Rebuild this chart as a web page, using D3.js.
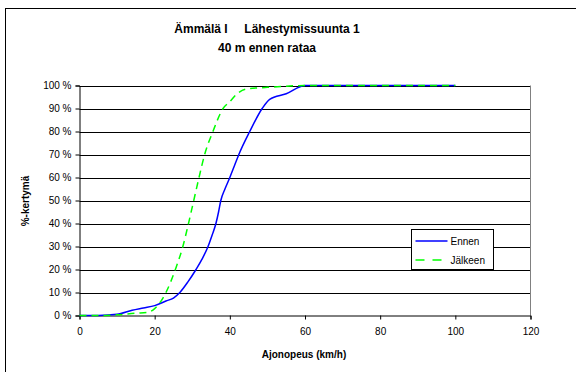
<!DOCTYPE html>
<html>
<head>
<meta charset="utf-8">
<script src="https://cdn.jsdelivr.net/npm/d3@7"></script>
<style>
  body { margin: 0; background: #fff; }
  text { font-family: Arial, "Liberation Sans", sans-serif; }
</style>
</head>
<body>
<div id="outer"></div>
<script>
////////// DATA //////////
const titleLines = ['Ämmälä I     Lähestymissuunta 1', '40 m ennen rataa'];
const seriesNames = ['Ennen', 'Jälkeen'];
const xTicks = [0, 20, 40, 60, 80, 100, 120];
const yTicks = [0, 10, 20, 30, 40, 50, 60, 70, 80, 90, 100];

// [speed km/h, cumulative %]
const ennen = [[0,0],[5,0],[10,0.5],[14,2.3],[17,3.3],[20,4.3],[23,6.3],[25,7.6],[26.7,10],[28.8,14.5],[31,20],[32.6,24.5],[34.2,30],[35.3,35],[36.3,40],[37,45],[37.6,50],[38.7,55],[40,60],[41.2,65],[42.4,70],[45.3,80],[48.6,90],[50.6,94],[55,96.4],[60,100],[100,100]];
const jalkeen = [[0,0],[5,0],[10,0.3],[15,1],[18,1.3],[20,3],[23,10],[25.5,20],[27.5,30],[29,40],[30.4,50],[31.8,60],[33.3,70],[35.5,80],[38.2,90],[40,93],[42,96.5],[44.4,98.5],[50,99.2],[55,99.7],[60,100],[100,100]];

////////// SIZING //////////
const width = 576, height = 372;
const plot = { left: 79.5, right: 530.5, top: 85.5, bottom: 315.5 };

const svg = d3.select('#outer').append('svg')
  .attr('width', width)
  .attr('height', height);

// outer chart border (runs off the right / bottom edge)
svg.append('rect')
  .attr('x', 5.5).attr('y', 8.5)
  .attr('width', 600).attr('height', 400)
  .attr('fill', 'white').attr('stroke', '#000').attr('stroke-width', 1);

const x = d3.scaleLinear().domain([0, 120]).range([plot.left, plot.right]);
const y = d3.scaleLinear().domain([0, 100]).range([plot.bottom, plot.top]);

// gridlines
svg.append('g').selectAll('line')
  .data(yTicks.filter(d => d > 0))
  .join('line')
  .attr('x1', plot.left).attr('x2', plot.right)
  .attr('y1', d => Math.round(y(d)) + 0.5).attr('y2', d => Math.round(y(d)) + 0.5)
  .attr('stroke', '#000').attr('stroke-width', 1);

// plot area border (right side grey)
svg.append('line')
  .attr('x1', plot.right).attr('x2', plot.right)
  .attr('y1', plot.top).attr('y2', plot.bottom)
  .attr('stroke', '#808080');

// axes
const yAxis = svg.append('g')
  .attr('transform', `translate(${plot.left},0)`)
  .call(d3.axisLeft(y).tickValues(yTicks).tickSize(4).tickPadding(3).tickFormat(d => d + ' %'));
const xAxis = svg.append('g')
  .attr('transform', `translate(0,${plot.bottom})`)
  .call(d3.axisBottom(x).tickValues(xTicks).tickSize(4).tickPadding(8).tickFormat(d3.format('d')));
[xAxis, yAxis].forEach(a => {
  a.select('.domain').attr('stroke', '#000');
  a.selectAll('line').attr('stroke', '#000');
  a.selectAll('text').attr('font-size', 10).attr('fill', '#000')
    .attr('font-family', 'Arial, "Liberation Sans", sans-serif');
});
yAxis.selectAll('text').attr('x', -8);

// lines
const line = d3.line().curve(d3.curveMonotoneX).x(d => x(d[0])).y(d => y(d[1]));
svg.append('path').datum(ennen)
  .attr('d', line).attr('fill', 'none')
  .attr('stroke', '#0000ff').attr('stroke-width', 1.5);
svg.append('path').datum(jalkeen)
  .attr('d', line).attr('fill', 'none')
  .attr('stroke', '#00ff00').attr('stroke-width', 1.5)
  .attr('stroke-dasharray', '7,5');

// title
svg.append('g').selectAll('text')
  .data(titleLines)
  .join('text')
  .attr('x', 267).attr('y', (d, i) => 33 + i * 18.5)
  .attr('text-anchor', 'middle')
  .attr('font-size', 12).attr('font-weight', 'bold')
  .attr('xml:space', 'preserve')
  .style('white-space', 'pre')
  .text(d => d);

// axis titles
svg.append('text')
  .attr('x', 304).attr('y', 358)
  .attr('text-anchor', 'middle')
  .attr('font-size', 10).attr('font-weight', 'bold')
  .text('Ajonopeus (km/h)');
svg.append('text')
  .attr('transform', 'translate(29,201) rotate(-90)')
  .attr('text-anchor', 'middle')
  .attr('font-size', 10).attr('font-weight', 'bold')
  .text('%-kertymä');

// legend
const legend = svg.append('g').attr('transform', 'translate(411.5,229.5)');
legend.append('rect')
  .attr('width', 82).attr('height', 40)
  .attr('fill', 'white').attr('stroke', '#000');
const legendStyles = [{ color: '#0000ff', dash: null }, { color: '#00ff00', dash: '9,8' }];
seriesNames.forEach((name, i) => {
  const ly = 11.5 + i * 19;
  legend.append('line')
    .attr('x1', 4).attr('x2', 36).attr('y1', ly).attr('y2', ly)
    .attr('stroke', legendStyles[i].color).attr('stroke-width', 1.5)
    .attr('stroke-dasharray', legendStyles[i].dash);
  legend.append('text')
    .attr('x', 39).attr('y', ly + 4)
    .attr('font-size', 10)
    .text(name);
});
</script>
</body>
</html>
